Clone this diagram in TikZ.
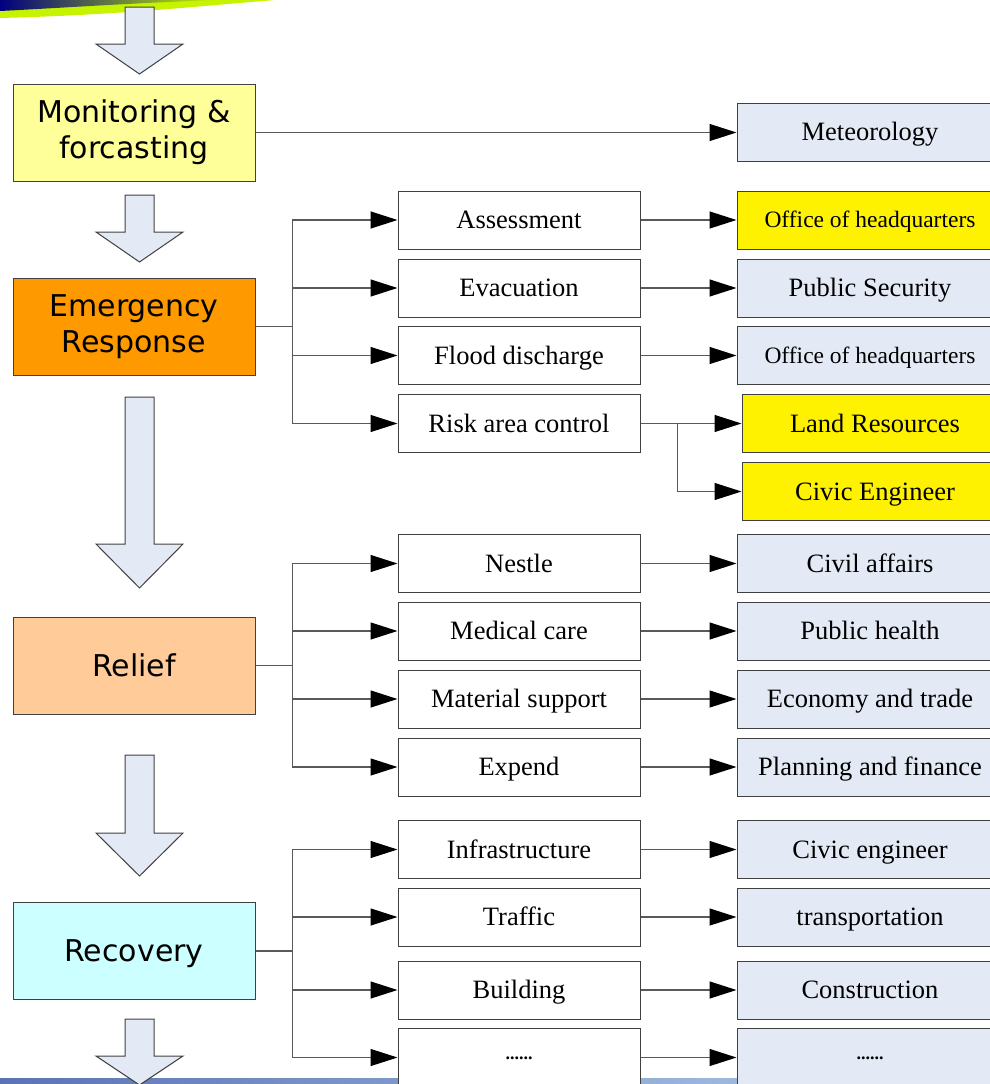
\documentclass[tikz,border=0pt]{standalone}
\usepackage{fontspec}
\setmainfont{Liberation Serif}
\newfontfamily\stagefamily{DejaVu Sans}
\usepackage{xcolor}
\usepackage{tikz}
\usetikzlibrary{arrows.meta}
\definecolor{deptblue}{HTML}{E4EAF5}
\definecolor{monyellow}{HTML}{FFFF99}
\definecolor{emorange}{HTML}{FF9900}
\definecolor{relpeach}{HTML}{FFCC99}
\definecolor{reccyan}{HTML}{CCFFFF}
\definecolor{swooshblue}{HTML}{000080}
\definecolor{swooshgreen}{HTML}{C6F400}
\definecolor{barleft}{HTML}{5B73B3}
\definecolor{barright}{HTML}{B4CFEB}
\tikzset{
    box/.style = {align=center, inner sep=0pt, text centered, draw=black!75, line width=1pt},
    stage/.style = {box, minimum width=242pt, minimum height=97pt, font=\stagefamily\fontsize{30}{36}\selectfont},
    oneline/.style = {text height=21.9pt, text depth=0pt},
    task/.style = {box, fill=white, minimum width=242pt, minimum height=58pt, font=\fontsize{26.5}{30}\selectfont,
                   text height=17.5pt, text depth=0pt},
    dept/.style = {task, fill=deptblue, minimum width=266pt},
    hotdept/.style = {dept, fill=yellow},
    small/.style = {font=\fontsize{23.5}{28}\selectfont, text height=15.6pt},
    dots/.style = {font=\bfseries\fontsize{18}{20}\selectfont, text height=3pt},
    link/.style = {draw=black!65, line width=1.2pt, -{Triangle[length=27pt, width=17pt, color=black]}},
    bigarrow/.style = {draw=black!75, line width=1pt, fill=deptblue}
}
% block arrow: top, start of head, tip
\newcommand{\downblock}[3]{%
    \filldraw[bigarrow] (125,#1) -- (154,#1) -- (154,#2) -- (183,#2) -- (139.5,#3)
        -- (96,#2) -- (125,#2) -- cycle;}

\begin{document}
\begin{tikzpicture}[x=1pt, y=-1pt]
    \useasboundingbox (0,0) rectangle (990,1084);
    \clip (0,0) rectangle (990,1084);

    % slide decoration
    \fill[swooshgreen] (0,0) -- (0,18) .. controls (120,15) and (200,6) .. (275,0) -- cycle;
    \shade[left color=swooshblue, right color=swooshgreen] (0,0) -- (0,11) .. controls (60,8) and (150,2) .. (220,0) -- cycle;
    \shade[left color=barleft, right color=barright] (0,1078) rectangle (990,1084);

    % stages
    \node[stage, fill=monyellow] (mon) at (134,132.5) {Monitoring \&\\forcasting};
    \node[stage, fill=emorange] (er) at (134,326.5) {Emergency\\Response};
    \node[stage, fill=relpeach, oneline] (rel) at (134,665.5) {Relief};
    \node[stage, fill=reccyan, oneline] (rec) at (134,951) {Recovery};

    \downblock{7}{44}{74}
    \downblock{195}{232}{262}
    \downblock{397}{544}{588}
    \downblock{755}{833}{876}
    \downblock{1019}{1056}{1085}

    % tasks
    \node[task] (assess) at (519,220) {Assessment};
    \node[task] (evac) at (519,288) {Evacuation};
    \node[task] (flood) at (519,355.5) {Flood discharge};
    \node[task] (risk) at (519,423.5) {Risk area control};
    \node[task] (nestle) at (519,563.5) {Nestle};
    \node[task] (medic) at (519,631) {Medical care};
    \node[task] (material) at (519,699) {Material support};
    \node[task] (expend) at (519,767) {Expend};
    \node[task] (infra) at (519,849.5) {Infrastructure};
    \node[task] (traffic) at (519,917) {Traffic};
    \node[task] (building) at (519,990) {Building};
    \node[task, dots] (more) at (519,1057.5) {......};

    % departments
    \node[dept] (met) at (870,132) {Meteorology};
    \node[hotdept, small] (hqa) at (870,220) {Office of headquarters};
    \node[dept] (security) at (870,288) {Public Security};
    \node[dept, small] (hqb) at (870,355.5) {Office of headquarters};
    \node[hotdept] (land) at (875,423.5) {Land Resources};
    \node[hotdept] (civeng) at (875,491.5) {Civic Engineer};
    \node[dept] (civil) at (870,563.5) {Civil affairs};
    \node[dept] (health) at (870,631) {Public health};
    \node[dept] (economy) at (870,699) {Economy and trade};
    \node[dept] (finance) at (870,767) {Planning and finance};
    \node[dept] (civiceng) at (870,849.5) {Civic engineer};
    \node[dept] (transport) at (870,917) {transportation};
    \node[dept] (construct) at (870,990) {Construction};
    \node[dept, dots] (moredept) at (870,1057.5) {......};

    % connectors
    \draw[link] (mon.east) -- (mon.east -| met.west);
    \foreach \t in {assess,evac,flood,risk}
        \draw[link] (er.east) -- ++(37,0) |- (\t.west);
    \foreach \t in {nestle,medic,material,expend}
        \draw[link] (rel.east) -- ++(37,0) |- (\t.west);
    \foreach \t in {infra,traffic,building,more}
        \draw[link] (rec.east) -- ++(37,0) |- (\t.west);
    \foreach \t/\d in {assess/hqa, evac/security, flood/hqb, nestle/civil, medic/health,
                       material/economy, expend/finance, infra/civiceng, traffic/transport,
                       building/construct, more/moredept}
        \draw[link] (\t.east) -- (\d.west);
    \draw[link] (risk.east) -- (land.west);
    \draw[link] (risk.east) -- ++(37,0) |- (civeng.west);
\end{tikzpicture}
\end{document}
